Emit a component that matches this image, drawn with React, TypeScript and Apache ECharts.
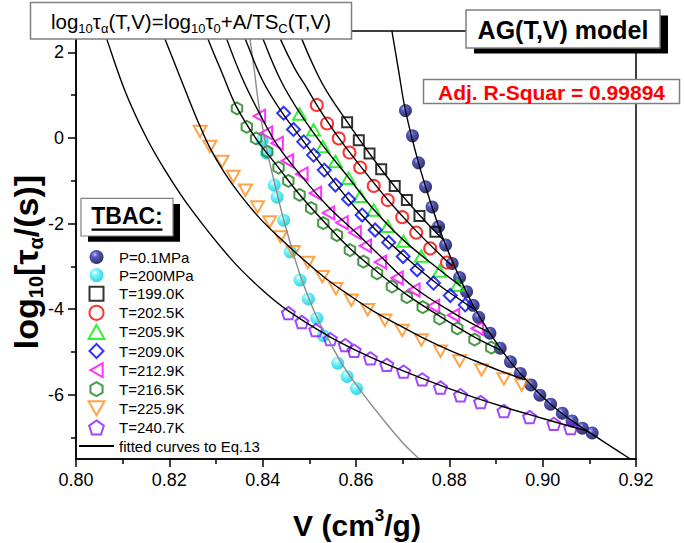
import React, { useEffect, useRef } from 'react';
import * as echarts from 'echarts';

const FONT = '"Liberation Sans", Arial, Helvetica, sans-serif';

// ---------- measured data (V in cm3/g, log10 tau in s) ----------
const V_P01 = [0.8706, 0.8721, 0.8734, 0.8749, 0.8763, 0.8777, 0.8792, 0.8806, 0.8822, 0.8837, 0.8851, 0.8863, 0.8887, 0.8909, 0.8931, 0.8952, 0.8975, 0.8994, 0.9017, 0.9042, 0.9063, 0.9085, 0.9106];
const L_P01 = [0.64, 0.05, -0.58, -1.14, -1.61, -2.07, -2.5, -2.93, -3.26, -3.59, -3.91, -4.19, -4.56, -4.91, -5.23, -5.5, -5.77, -6.01, -6.22, -6.43, -6.61, -6.78, -6.89];

const V_P200 = [0.8399, 0.8408, 0.8425, 0.8431, 0.8445, 0.8459, 0.848, 0.8498, 0.8516, 0.853, 0.8561, 0.8581, 0.8601];
const L_P200 = [-0.05, -0.35, -1.1, -1.38, -1.92, -2.66, -3.32, -3.76, -4.21, -4.62, -5.26, -5.57, -5.85];

const V_T199 = [0.8581, 0.8606, 0.8629, 0.8654, 0.8683, 0.8709, 0.8736, 0.877];
const L_T199 = [0.37, -0.05, -0.36, -0.73, -1.12, -1.45, -1.82, -2.19];

const V_T2025 = [0.8516, 0.8538, 0.8563, 0.8586, 0.8609, 0.8638, 0.8668, 0.8699, 0.8729, 0.8759, 0.8795];
const L_T2025 = [0.77, 0.34, -0.01, -0.34, -0.69, -1.12, -1.45, -1.85, -2.21, -2.58, -2.91];

const V_T2059 = [0.8479, 0.8509, 0.8529, 0.8556, 0.8584, 0.8609, 0.8638, 0.8668, 0.8702, 0.874, 0.8779, 0.8817];
const L_T2059 = [0.56, 0.19, -0.2, -0.55, -0.94, -1.36, -1.68, -2.06, -2.41, -2.76, -3.11, -3.44];

const V_T209 = [0.8445, 0.8466, 0.8488, 0.8509, 0.8532, 0.8556, 0.8584, 0.8613, 0.8641, 0.867, 0.8701, 0.8731, 0.8766, 0.8802, 0.8834];
const L_T209 = [0.58, 0.2, -0.09, -0.4, -0.75, -1.1, -1.43, -1.8, -2.15, -2.44, -2.77, -3.08, -3.39, -3.68, -3.9];

const V_T2129 = [0.8393, 0.8408, 0.8431, 0.8453, 0.8484, 0.8513, 0.8541, 0.857, 0.8598, 0.862, 0.8652, 0.8688, 0.8724, 0.8766, 0.8809, 0.886];
const L_T2129 = [0.51, 0.12, -0.12, -0.53, -0.84, -1.29, -1.75, -1.98, -2.21, -2.52, -2.9, -3.27, -3.55, -3.93, -4.14, -4.45];

const V_T2165 = [0.8345, 0.8366, 0.8386, 0.841, 0.8434, 0.8455, 0.8479, 0.8504, 0.853, 0.8559, 0.8587, 0.8616, 0.8645, 0.8677, 0.8709, 0.8743, 0.8779, 0.8817, 0.8854, 0.889];
const L_T2165 = [0.69, 0.26, -0.01, -0.32, -0.69, -1.0, -1.33, -1.64, -1.99, -2.27, -2.62, -2.89, -3.16, -3.47, -3.72, -3.95, -4.22, -4.45, -4.71, -4.9];

const V_T2259 = [0.8266, 0.8287, 0.8313, 0.8337, 0.8363, 0.8389, 0.8415, 0.8438, 0.8466, 0.8497, 0.8528, 0.8557, 0.859, 0.8625, 0.8662, 0.8699, 0.874, 0.8781, 0.8822, 0.8869, 0.8917, 0.8955];
const L_T2259 = [0.15, -0.2, -0.55, -0.9, -1.22, -1.61, -1.96, -2.31, -2.66, -2.91, -3.24, -3.52, -3.79, -4.01, -4.26, -4.5, -4.72, -4.98, -5.21, -5.42, -5.63, -5.77];

const V_T2407 = [0.8455, 0.8484, 0.8514, 0.8545, 0.8577, 0.8596, 0.8631, 0.8666, 0.8702, 0.8742, 0.8781, 0.8824, 0.8867, 0.8917, 0.8972, 0.9024, 0.906];
const L_T2407 = [-4.09, -4.3, -4.49, -4.7, -4.84, -4.97, -5.15, -5.3, -5.46, -5.64, -5.83, -6.01, -6.17, -6.38, -6.52, -6.68, -6.78];

// ---------- fitted curves ----------
const FV_P01 = [0.8677, 0.8691, 0.8706, 0.8734, 0.8763, 0.8792, 0.8822, 0.8851, 0.8887, 0.8931, 0.8975, 0.9017, 0.9063, 0.9106, 0.9145, 0.9188];
const FL_P01 = [2.5, 1.59, 0.64, -0.58, -1.61, -2.5, -3.26, -3.91, -4.56, -5.23, -5.77, -6.22, -6.61, -6.92, -7.2, -7.5];

const FV_P200 = [0.8372, 0.8373, 0.8382, 0.839, 0.8399, 0.841, 0.8425, 0.8444, 0.8461, 0.8478, 0.8498, 0.8517, 0.8538, 0.8573, 0.8609, 0.8659, 0.8701, 0.8734];
const FL_P200 = [2.5, 2.31, 1.59, 0.89, 0.3, -0.33, -1.03, -1.87, -2.52, -3.13, -3.72, -4.21, -4.65, -5.33, -5.89, -6.59, -7.13, -7.48];

const FV_T199 = [0.848, 0.8484, 0.8513, 0.8538, 0.8581, 0.8628, 0.8682, 0.8736, 0.8787];
const FL_T199 = [2.5, 2.31, 1.59, 1.08, 0.38, -0.35, -1.12, -1.8, -2.38];

const FV_T2025 = [0.8433, 0.8438, 0.8468, 0.8495, 0.8516, 0.8562, 0.8609, 0.8667, 0.8729, 0.8794, 0.8807];
const FL_T2025 = [2.5, 2.31, 1.64, 1.16, 0.77, 0.02, -0.65, -1.43, -2.17, -2.87, -2.99];

const FV_T2059 = [0.8397, 0.8401, 0.8438, 0.8478, 0.853, 0.8583, 0.8637, 0.8701, 0.8779, 0.8824];
const FL_T2059 = [2.5, 2.31, 1.36, 0.61, -0.19, -0.91, -1.66, -2.38, -3.08, -3.46];

const FV_T209 = [0.8358, 0.8363, 0.8399, 0.8438, 0.8487, 0.8532, 0.8583, 0.8641, 0.8701, 0.8766, 0.8834, 0.8854];
const FL_T209 = [2.5, 2.31, 1.36, 0.65, -0.07, -0.72, -1.43, -2.13, -2.73, -3.34, -3.86, -4.0];

const FV_T2129 = [0.8319, 0.8323, 0.8356, 0.8393, 0.8431, 0.8483, 0.8541, 0.8601, 0.8654, 0.8723, 0.8809, 0.8888];
const FL_T2129 = [2.5, 2.31, 1.4, 0.58, -0.16, -0.89, -1.61, -2.22, -2.78, -3.48, -4.09, -4.56];

const FV_T2165 = [0.8278, 0.8283, 0.8313, 0.8343, 0.8386, 0.8433, 0.8478, 0.853, 0.8586, 0.8646, 0.871, 0.8779, 0.8854, 0.8909];
const FL_T2165 = [2.5, 2.31, 1.52, 0.75, -0.02, -0.68, -1.31, -1.94, -2.57, -3.13, -3.67, -4.16, -4.65, -4.95];

const FV_T2259 = [0.8184, 0.8206, 0.8234, 0.8262, 0.8287, 0.8317, 0.8352, 0.8395, 0.8438, 0.848, 0.8534, 0.8588, 0.8641, 0.8695, 0.8749, 0.8802, 0.8856, 0.8909, 0.8963];
const FL_T2259 = [2.5, 1.89, 1.12, 0.37, -0.23, -0.79, -1.33, -1.89, -2.35, -2.77, -3.27, -3.69, -4.07, -4.39, -4.7, -4.97, -5.21, -5.44, -5.65];

const FV_T2407 = [0.8061, 0.8066, 0.8105, 0.8148, 0.8189, 0.8245, 0.833, 0.8395, 0.8455, 0.8545, 0.8631, 0.8701, 0.8781, 0.8845, 0.8916, 0.8974, 0.9038, 0.9096];
const FL_T2407 = [2.5, 2.31, 1.1, 0.07, -0.72, -1.64, -2.8, -3.51, -4.04, -4.65, -5.12, -5.44, -5.78, -6.03, -6.28, -6.47, -6.67, -6.85];

// ---------- axis ticks ----------
const X_MIN = 0.8;
const X_MAX = 0.92;
const X_STEP = 0.02;
const Y_MIN = -7.5;
const Y_MAX = 2.5;
const Y_MAJOR = [-6, -4, -2, 0, 2];
const Y_MINOR = [-7, -5, -3, -1, 1];

const LEGEND_NAMES = ['P=0.1MPa', 'P=200MPa', 'T=199.0K', 'T=202.5K', 'T=205.9K', 'T=209.0K', 'T=212.9K', 'T=216.5K', 'T=225.9K', 'T=240.7K', 'fitted curves to Eq.13'];

// marker outlines (path symbols keep their aspect in the legend too)
const SQUARE = 'path://M-1,-1 L1,-1 L1,1 L-1,1 Z';
const TRI_UP = 'path://M0,-1 L1.05,0.85 L-1.05,0.85 Z';
const TRI_DOWN = 'path://M-1.05,-0.85 L1.05,-0.85 L0,1 Z';
const TRI_LEFT = 'path://M-1,0 L0.85,-1.05 L0.85,1.05 Z';
const DIAMOND = 'path://M0,-1 L1,0 L0,1 L-1,0 Z';
const HEX = 'path://M0,-10 L8.66,-5 L8.66,5 L0,10 L-8.66,5 L-8.66,-5 Z';
const PENT = 'path://M0,-10 L9.51,-3.09 L5.88,8.09 L-5.88,8.09 L-9.51,-3.09 Z';

const pairs = (v: number[], l: number[]) => v.map((x, i) => [x, l[i]]);

function scatter(name: string, v: number[], l: number[], symbol: string, color: any, size: number, filled = false) {
  return {
    type: 'scatter',
    name,
    data: pairs(v, l),
    symbol,
    symbolSize: size,
    symbolKeepAspect: true,
    itemStyle: filled
      ? { color }
      : { color: 'rgba(255,255,255,0)', borderColor: color, borderWidth: 2 },
    z: 2,
    silent: true,
  };
}

function fit(name: string, v: number[], l: number[], color = '#000') {
  return {
    type: 'line',
    name,
    data: pairs(v, l),
    symbol: 'none',
    smooth: 0.35,
    lineStyle: { color, width: 1.4 },
    itemStyle: { color: 'rgba(0,0,0,0)', borderWidth: 0 },
    z: 3,
    silent: true,
  };
}

export default function App() {
  const ref = useRef<HTMLDivElement>(null);
  useEffect(() => {
    document.body.style.margin = '0';
    const chart = echarts.init(ref.current!, null, { renderer: 'svg' });

    const navy = new echarts.graphic.RadialGradient(0.38, 0.32, 0.7, [
      { offset: 0, color: '#aab4ff' },
      { offset: 0.3, color: '#2b2fae' },
      { offset: 1, color: '#00003c' },
    ]);
    const cyan = new echarts.graphic.RadialGradient(0.38, 0.32, 0.7, [
      { offset: 0, color: '#f0ffff' },
      { offset: 0.35, color: '#4ff0fa' },
      { offset: 1, color: '#00c6dc' },
    ]);

    const option: any = {
      animation: false,
      grid: {
        left: 76, top: 31, width: 560, height: 428,
        show: true, borderColor: '#000', borderWidth: 1.5, backgroundColor: 'rgba(0,0,0,0)',
      },
      legend: {
        orient: 'vertical', left: 78, top: 249.5, padding: 0,
        itemWidth: 35, itemHeight: 14, itemGap: 3.1,
        symbolKeepAspect: true,
        selectedMode: false,
        textStyle: { fontSize: 15, color: '#000', fontFamily: FONT },
        data: LEGEND_NAMES,
      },
      xAxis: {
        type: 'value', min: X_MIN, max: X_MAX, interval: X_STEP,
        axisLine: { show: true, onZero: false, lineStyle: { color: '#000', width: 1.5 } },
        axisTick: { show: true, inside: false, length: 8, lineStyle: { color: '#000', width: 1.5 } },
        minorTick: { show: true, splitNumber: 2, length: 5, lineStyle: { color: '#000', width: 1.5 } },
        axisLabel: { color: '#000', fontSize: 18, fontFamily: FONT, margin: 12, formatter: (v: number) => v.toFixed(2) },
        splitLine: { show: false },
        minorSplitLine: { show: false },
      },
      yAxis: [
        {
          type: 'value', min: Y_MIN, max: Y_MAX,
          axisLine: { show: true, onZero: false, lineStyle: { color: '#000', width: 1.5 } },
          axisTick: { show: true, inside: false, length: 8, customValues: Y_MAJOR, lineStyle: { color: '#000', width: 1.5 } },
          axisLabel: { color: '#000', fontSize: 18, fontFamily: FONT, margin: 12, customValues: Y_MAJOR },
          splitLine: { show: false },
        },
        {
          type: 'value', min: Y_MIN, max: Y_MAX, position: 'left',
          axisLine: { show: false },
          axisTick: { show: true, inside: false, length: 5, customValues: Y_MINOR, lineStyle: { color: '#000', width: 1.5 } },
          axisLabel: { show: false },
          splitLine: { show: false },
        },
      ],
      series: [
        scatter('P=0.1MPa', V_P01, L_P01, 'circle', navy, 13, true),
        scatter('P=200MPa', V_P200, L_P200, 'circle', cyan, 13, true),
        scatter('T=199.0K', V_T199, L_T199, SQUARE, '#000000', 10),
        scatter('T=202.5K', V_T2025, L_T2025, 'circle', '#ff0000', 12),
        scatter('T=205.9K', V_T2059, L_T2059, TRI_UP, '#00ee00', 13),
        scatter('T=209.0K', V_T209, L_T209, DIAMOND, '#0000ff', 13),
        scatter('T=212.9K', V_T2129, L_T2129, TRI_LEFT, '#ff00ff', 13),
        scatter('T=216.5K', V_T2165, L_T2165, HEX, '#1a7f1a', 12),
        scatter('T=225.9K', V_T2259, L_T2259, TRI_DOWN, '#ff8c1a', 13),
        scatter('T=240.7K', V_T2407, L_T2407, PENT, '#8a1aff', 13),
        fit('fitted curves to Eq.13', FV_P01, FL_P01),
        fit('fit P200', FV_P200, FL_P200, '#8c8c8c'),
        fit('fit 199.0', FV_T199, FL_T199),
        fit('fit 202.5', FV_T2025, FL_T2025),
        fit('fit 205.9', FV_T2059, FL_T2059),
        fit('fit 209.0', FV_T209, FL_T209),
        fit('fit 212.9', FV_T2129, FL_T2129),
        fit('fit 216.5', FV_T2165, FL_T2165),
        fit('fit 225.9', FV_T2259, FL_T2259),
        fit('fit 240.7', FV_T2407, FL_T2407),
      ],
      graphic: [
        // formula box
        { type: 'rect', z: 100, shape: { x: 30.5, y: 2.5, width: 321, height: 36.5 }, style: { fill: '#fff', stroke: '#7f7f7f', lineWidth: 1.5 } },
        {
          type: 'text', z: 101, x: 191, y: 21,
          style: {
            text: '{m|log}{s|10}{m|τ}{s|α}{m|(T,V)=log}{s|10}{m|τ}{s|0}{m|+A/TS}{s|C}{m|(T,V)}',
            align: 'center', verticalAlign: 'middle',
            rich: {
              m: { fontSize: 20.5, fontFamily: FONT, lineHeight: 28, fill: '#000' },
              s: { fontSize: 13, fontFamily: FONT, lineHeight: 14, verticalAlign: 'bottom', fill: '#000' },
            },
          },
        },
        // AG model box with shadow
        { type: 'rect', z: 100, shape: { x: 474, y: 15.5, width: 194, height: 38 }, style: { fill: '#000' } },
        { type: 'rect', z: 101, shape: { x: 466, y: 10, width: 194, height: 38 }, style: { fill: '#fff', stroke: '#7f7f7f', lineWidth: 1.5 } },
        {
          type: 'text', z: 102, x: 563, y: 29.5,
          style: { text: 'AG(T,V) model', align: 'center', verticalAlign: 'middle', font: `bold 25px ${FONT}`, fill: '#000' },
        },
        // R-square box
        { type: 'rect', z: 100, shape: { x: 423.5, y: 79.5, width: 256, height: 24 }, style: { fill: '#fff', stroke: '#7f7f7f', lineWidth: 1.5 } },
        {
          type: 'text', z: 101, x: 551.5, y: 92,
          style: { text: 'Adj. R-Squar = 0.99894', align: 'center', verticalAlign: 'middle', font: `bold 21px ${FONT}`, fill: '#ff0000' },
        },
        // TBAC box
        { type: 'rect', z: 100, shape: { x: 88, y: 204, width: 92, height: 37.7 }, style: { fill: '#000' } },
        { type: 'rect', z: 101, shape: { x: 81, y: 198.3, width: 92, height: 37.7 }, style: { fill: '#fff', stroke: '#7f7f7f', lineWidth: 1.2 } },
        {
          type: 'text', z: 102, x: 127, y: 216,
          style: { text: 'TBAC:', align: 'center', verticalAlign: 'middle', font: `bold 23px ${FONT}`, fill: '#000' },
        },
        { type: 'rect', z: 102, shape: { x: 91.5, y: 228.5, width: 71, height: 2.2 }, style: { fill: '#000' } },
        // axis titles
        {
          type: 'text', z: 101, x: 357, y: 525,
          style: {
            text: '{m|V (cm}{p|3}{m|/g)}',
            align: 'center', verticalAlign: 'middle',
            rich: {
              m: { fontSize: 30, fontWeight: 'bold', fontFamily: FONT, lineHeight: 36, fill: '#000' },
              p: { fontSize: 17, fontWeight: 'bold', fontFamily: FONT, lineHeight: 22, verticalAlign: 'top', fill: '#000' },
            },
          },
        },
        {
          type: 'text', z: 101, x: 26, y: 262, rotation: Math.PI / 2,
          style: {
            text: '{m|log}{s|10}{m|[τ}{s|α}{m|/(s)]}',
            align: 'center', verticalAlign: 'middle',
            rich: {
              m: { fontSize: 34, fontWeight: 'bold', fontFamily: FONT, lineHeight: 40, fill: '#000' },
              s: { fontSize: 20, fontWeight: 'bold', fontFamily: FONT, lineHeight: 20, verticalAlign: 'bottom', fill: '#000' },
            },
          },
        },
      ],
    };

    chart.setOption(option);
    return () => chart.dispose();
  }, []);

  return <div ref={ref} style={{ position: 'absolute', left: 0, top: 0, width: 685, height: 543 }} />;
}
